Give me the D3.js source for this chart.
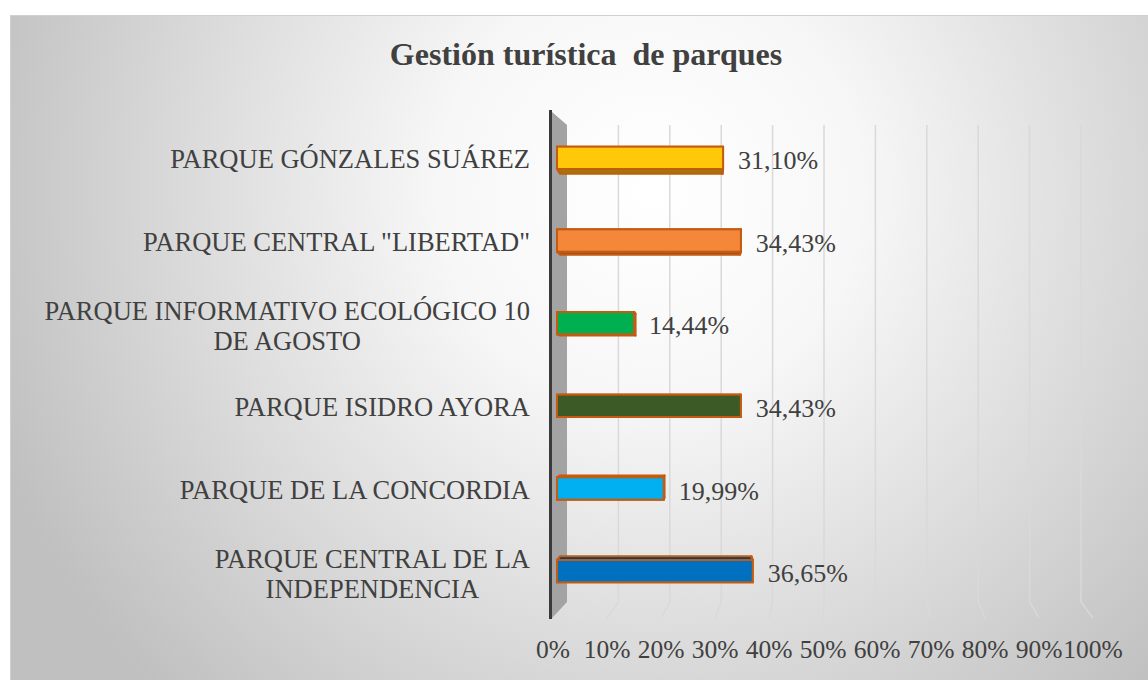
<!DOCTYPE html>
<html>
<head>
<meta charset="utf-8">
<script src="https://cdn.jsdelivr.net/npm/d3@7"></script>
<style>
  body { margin: 0; background: #fff; }
  svg text { font-family: "Liberation Serif", "Times New Roman", serif; fill: #404040; }
</style>
</head>
<body>
<svg id="chart" width="1148" height="680"></svg>
<script>
// data, top bar first
var categories = [
  ["PARQUE GÓNZALES SUÁREZ"],
  ["PARQUE CENTRAL \"LIBERTAD\""],
  ["PARQUE INFORMATIVO ECOLÓGICO 10", "DE AGOSTO"],
  ["PARQUE ISIDRO AYORA"],
  ["PARQUE DE LA CONCORDIA"],
  ["PARQUE CENTRAL DE LA", "INDEPENDENCIA"]
];
var values = [31.10, 34.43, 14.44, 34.43, 19.99, 36.65];
var valueLabels = ["31,10%", "34,43%", "14,44%", "34,43%", "19,99%", "36,65%"];
var barColors = ["#ffc90a", "#f5873a", "#00b050", "#3b5a26", "#00b0f0", "#0070c0"];
var ticks = [0, 10, 20, 30, 40, 50, 60, 70, 80, 90, 100];
var title = "Gestión turística  de parques";

var svg = d3.select("#chart");
var defs = svg.append("defs");

var bg = defs.append("radialGradient")
  .attr("id", "bg")
  .attr("gradientUnits", "userSpaceOnUse")
  .attr("cx", 650).attr("cy", 190).attr("r", 700);
bg.append("stop").attr("offset", "0").attr("stop-color", "#ffffff");
bg.append("stop").attr("offset", "0.3").attr("stop-color", "#f7f7f7");
bg.append("stop").attr("offset", "1").attr("stop-color", "#c0c0c0");

svg.append("rect")
  .attr("x", 10.5).attr("y", 15.5)
  .attr("width", 1140).attr("height", 670)
  .attr("fill", "url(#bg)")
  .attr("stroke", "#d0d0d0");

svg.append("text")
  .attr("x", 586).attr("y", 65)
  .attr("text-anchor", "middle")
  .style("font-size", "32px")
  .style("font-weight", "bold")
  .style("white-space", "pre")
  .text(title);

// three x scales: back wall (gridlines), middle (bars), front floor edge (tick labels)
var xBack = d3.scaleLinear().domain([0, 100]).range([567, 1081]);
var xBar = d3.scaleLinear().domain([0, 100]).range([557, 1091]);
var xFront = d3.scaleLinear().domain([0, 100]).range([553, 1093]);
var y = d3.scaleBand().domain(d3.range(categories.length)).range([116.5, 612.5]);

var top3d = 125, bottomBack = 602, bottomFront = 618;

// gridlines bending onto the floor
svg.append("g").selectAll("polyline")
  .data(ticks.slice(1))
  .enter().append("polyline")
  .attr("points", d => [[xBack(d), top3d], [xBack(d), bottomBack], [xFront(d), bottomFront]].join(" "))
  .attr("fill", "none")
  .attr("stroke", "#d9d9d9")
  .attr("stroke-width", 1.5);

// side wall + axis line
svg.append("polygon")
  .attr("points", [[552, 112], [567, top3d], [567, bottomBack], [552, bottomFront]].join(" "))
  .attr("fill", "#a3a3a3");
svg.append("line")
  .attr("x1", 550.5).attr("x2", 550.5)
  .attr("y1", 110).attr("y2", 619)
  .attr("stroke", "#3a3a3a")
  .attr("stroke-width", 3);

// tick labels
svg.append("g").selectAll("text")
  .data(ticks)
  .enter().append("text")
  .attr("x", d => xFront(d))
  .attr("y", 658)
  .attr("text-anchor", "middle")
  .style("font-size", "25.5px")
  .text(d => d + "%");

// 3D bars: faces pulled toward a vanishing point
var vp = [700, 390], depth = 0.022;
function back(p) { return [p[0] + (vp[0] - p[0]) * depth, p[1] + (vp[1] - p[1]) * depth]; }

var barH = y.bandwidth() * 0.27;
var bars = svg.append("g").selectAll("g")
  .data(values)
  .enter().append("g");

bars.each(function (v, i) {
  var g = d3.select(this);
  var x0 = xBar(0), x1 = xBar(v);
  var y0 = y(i) + (y.bandwidth() - barH) / 2, y1 = y0 + barH;
  var dark = d3.color(barColors[i]).darker(1.4).formatHex();
  var tl = [x0, y0], tr = [x1, y0], br = [x1, y1], bl = [x0, y1];
  var faces = [
    [tl, tr, back(tr), back(tl)],
    [bl, br, back(br), back(bl)],
    [tr, br, back(br), back(tr)]
  ];
  g.selectAll("polygon")
    .data(faces)
    .enter().append("polygon")
    .attr("points", f => f.join(" "))
    .attr("fill", dark)
    .attr("stroke", "#c55a11")
    .attr("stroke-width", 2)
    .attr("stroke-linejoin", "round");
  g.append("rect")
    .attr("x", x0).attr("y", y0)
    .attr("width", x1 - x0).attr("height", barH)
    .attr("fill", barColors[i])
    .attr("stroke", "#c55a11")
    .attr("stroke-width", 2);
  g.append("text")
    .attr("x", x1 + 15)
    .attr("y", y0 + barH / 2 + 11)
    .style("font-size", "26px")
    .text(valueLabels[i]);
});

// category labels, right aligned block, lines centred
var labels = svg.append("g").selectAll("g")
  .data(categories)
  .enter().append("g");

labels.each(function (lines, i) {
  var g = d3.select(this);
  var t = g.append("text").style("font-size", "26.5px");
  var cy = y(i) + y.bandwidth() / 2;
  var lh = 30;
  var firstBase = cy + 10 - (lines.length - 1) * lh / 2 + (lines.length - 1) * 2;
  lines.forEach(function (s, k) {
    t.append("tspan").attr("y", firstBase + k * lh).text(s);
  });
  // measure to right align the block and centre each line within it
  var tsp = t.selectAll("tspan").nodes();
  var w = d3.max(tsp, n => n.getComputedTextLength());
  var right = 530;
  tsp.forEach(function (n) {
    d3.select(n).attr("x", right - w / 2).attr("text-anchor", "middle");
  });
});
</script>
</body>
</html>
